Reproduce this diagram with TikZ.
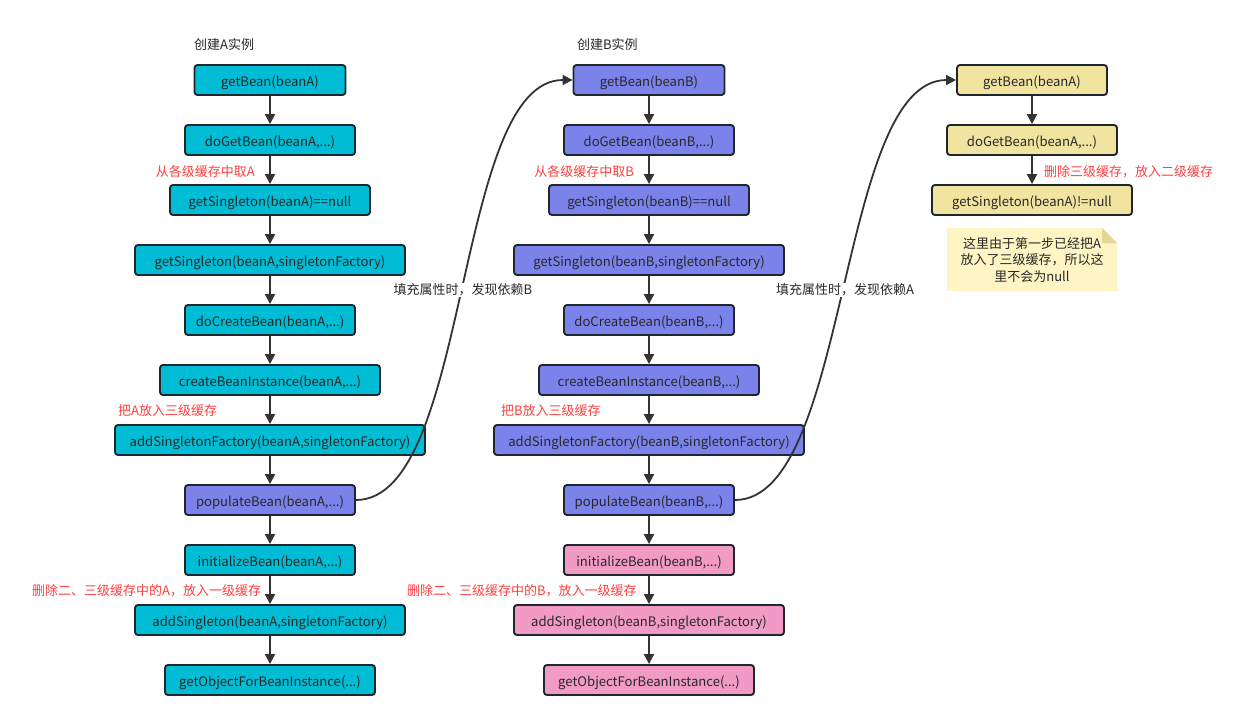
\documentclass[tikz,border=0pt]{standalone}
\usepackage{fontspec}
\setmainfont{Noto Sans CJK SC}
\usetikzlibrary{arrows.meta}
\definecolor{cyanfill}{RGB}{0,188,212}
\definecolor{purplefill}{RGB}{123,131,235}
\definecolor{pinkfill}{RGB}{241,154,198}
\definecolor{yellowfill}{RGB}{241,227,160}
\definecolor{notefill}{RGB}{255,244,195}
\definecolor{notefold}{RGB}{229,214,150}
\definecolor{bordercol}{RGB}{30,38,46}
\definecolor{linecol}{RGB}{51,51,51}
\definecolor{txtcol}{RGB}{40,40,40}
\definecolor{redtxt}{RGB}{255,64,64}
\begin{document}
\begin{tikzpicture}[x=1pt,y=-1pt,
  box/.style={draw=bordercol, line width=1.9pt, rounded corners=3pt, minimum height=30pt, inner sep=0pt, text height=12pt, text depth=0pt, text=txtcol, font=\fontsize{13.1}{15}\selectfont},
  cy/.style={box, fill=cyanfill},
  pu/.style={box, fill=purplefill},
  pk/.style={box, fill=pinkfill},
  ye/.style={box, fill=yellowfill},
  arr/.style={draw=linecol, line width=2pt, -{Triangle[length=10pt,width=10pt]}},
  curv/.style={draw=linecol, line width=1.8pt, -{Triangle[length=10pt,width=10pt]}},
  redlbl/.style={text=redtxt, inner sep=0pt, font=\fontsize{13}{15}\selectfont},
  blklbl/.style={text=txtcol, inner sep=0pt, font=\fontsize{13}{15}\selectfont},
  edgelbl/.style={text=txtcol, fill=white, inner sep=1pt, font=\fontsize{13}{15}\selectfont}
]
\useasboundingbox (0,0) rectangle (1259,720);
\fill[white] (0,0) rectangle (1259,720);

% Column A
\node[blklbl, anchor=west] (ta) at (194,45) {创建A实例};
\node[cy, minimum width=151pt] (a1) at (270,80) {getBean(beanA)};
\node[cy, minimum width=170pt] (a2) at (270,140) {doGetBean(beanA,...)};
\node[cy, minimum width=200pt] (a3) at (270,200) {getSingleton(beanA)==null};
\node[cy, minimum width=270pt] (a4) at (270,260) {getSingleton(beanA,singletonFactory)};
\node[cy, minimum width=170pt] (a5) at (270,320) {doCreateBean(beanA,...)};
\node[cy, minimum width=220pt] (a6) at (270,380) {createBeanInstance(beanA,...)};
\node[cy, minimum width=310pt] (a7) at (270,440) {addSingletonFactory(beanA,singletonFactory)};
\node[pu, minimum width=170pt] (a8) at (270,500) {populateBean(beanA,...)};
\node[cy, minimum width=170pt] (a9) at (270,560) {initializeBean(beanA,...)};
\node[cy, minimum width=270pt] (a10) at (270,620) {addSingleton(beanA,singletonFactory)};
\node[cy, minimum width=210pt] (a11) at (270,680) {getObjectForBeanInstance(...)};

\node[redlbl, anchor=east] (la1) at (255,172) {从各级缓存中取A};
\node[redlbl, anchor=west] (la2) at (118,411) {把A放入三级缓存};
\node[redlbl, anchor=west] (la3) at (32,591) {删除二、三级缓存中的A，放入一级缓存};

% Column B
\node[blklbl, anchor=west] (tb) at (577,45) {创建B实例};
\node[pu, minimum width=151pt] (b1) at (649,80) {getBean(beanB)};
\node[pu, minimum width=170pt] (b2) at (649,140) {doGetBean(beanB,...)};
\node[pu, minimum width=200pt] (b3) at (649,200) {getSingleton(beanB)==null};
\node[pu, minimum width=270pt] (b4) at (649,260) {getSingleton(beanB,singletonFactory)};
\node[pu, minimum width=170pt] (b5) at (649,320) {doCreateBean(beanB,...)};
\node[pu, minimum width=220pt] (b6) at (649,380) {createBeanInstance(beanB,...)};
\node[pu, minimum width=310pt] (b7) at (649,440) {addSingletonFactory(beanB,singletonFactory)};
\node[pu, minimum width=170pt] (b8) at (649,500) {populateBean(beanB,...)};
\node[pk, minimum width=170pt] (b9) at (649,560) {initializeBean(beanB,...)};
\node[pk, minimum width=270pt] (b10) at (649,620) {addSingleton(beanB,singletonFactory)};
\node[pk, minimum width=210pt] (b11) at (649,680) {getObjectForBeanInstance(...)};

\node[redlbl, anchor=east] (lb1) at (634,172) {从各级缓存中取B};
\node[redlbl, anchor=west] (lb2) at (501,411) {把B放入三级缓存};
\node[redlbl, anchor=west] (lb3) at (407,591) {删除二、三级缓存中的B，放入一级缓存};

% Column C
\node[ye, minimum width=150pt] (c1) at (1032,80) {getBean(beanA)};
\node[ye, minimum width=170pt] (c2) at (1032,140) {doGetBean(beanA,...)};
\node[ye, minimum width=200pt] (c3) at (1032,200) {getSingleton(beanA)!=null};
\node[redlbl, anchor=west] (lc1) at (1044,172) {删除三级缓存，放入二级缓存};

% note
\fill[notefill] (947,228) -- (1102,228) -- (1117,243) -- (1117,291) -- (947,291) -- cycle;
\fill[notefold] (1102,228) -- (1117,243) -- (1102,243) -- cycle;
\node[blklbl, align=center, font=\fontsize{13}{16.5}\selectfont] (note) at (1032,260) {这里由于第一步已经把A\\放入了三级缓存，所以这\\里不会为null};

% straight arrows
\foreach \p/\q in {a1/a2,a2/a3,a3/a4,a4/a5,a5/a6,a6/a7,a7/a8,a8/a9,a9/a10,a10/a11,
                   b1/b2,b2/b3,b3/b4,b4/b5,b5/b6,b6/b7,b7/b8,b8/b9,b9/b10,b10/b11,
                   c1/c2,c2/c3}
  \draw[arr] (\p.south) -- (\q.north);

% curved connectors
\draw[curv] (a8.east) .. controls +(115,0) and +(-119,0) .. (b1.west);
\draw[curv] (b8.east) .. controls +(115,0) and +(-119,0) .. (c1.west);
\node[edgelbl] (e1) at (463,290) {填充属性时，发现依赖B};
\node[edgelbl] (e2) at (845,290) {填充属性时，发现依赖A};
\end{tikzpicture}
\end{document}
